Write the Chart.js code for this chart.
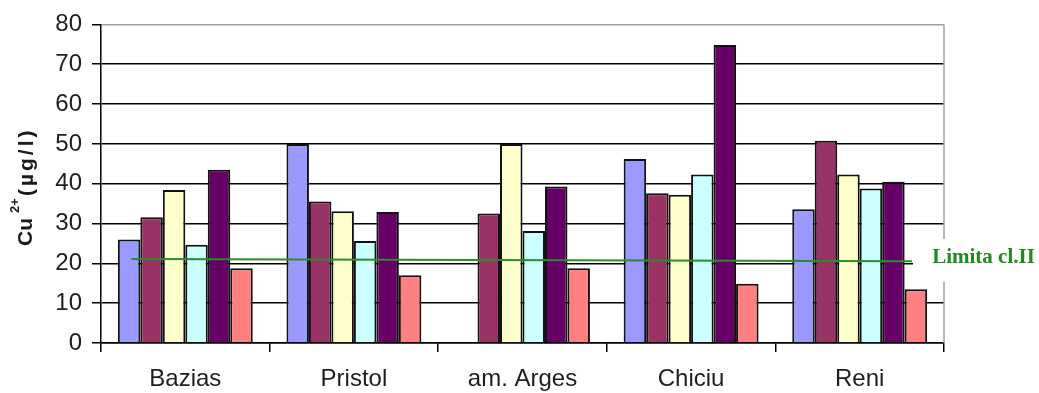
<!DOCTYPE html>
<html>
<head>
<meta charset="utf-8">
<script src="https://cdn.jsdelivr.net/npm/chart.js@4/dist/chart.umd.min.js"></script>
<style>
  html, body { margin: 0; padding: 0; background: #fff; }
  #wrap { width: 1039px; height: 393px; position: relative; }
</style>
</head>
<body>
<div id="wrap"><canvas id="c"></canvas></div>
<script>
// Sampling stations along the Danube
const sites = ['Bazias', 'Pristol', 'am. Arges', 'Chiciu', 'Reni'];

// Cu2+ concentration (µg/l), one array per sampling campaign
const series1 = [26.0, 50.0, null, 46.2, 33.6];
const series2 = [31.6, 35.5, 32.5, 37.6, 50.8];
const series3 = [38.4, 33.1, 50.0, 37.2, 42.3];
const series4 = [24.7, 25.6, 28.1, 42.3, 38.8];
const series5 = [43.5, 32.9, 39.3, 74.8, 40.5];
const series6 = [18.8, 17.0, 18.8, 14.9, 13.5];

// Value axis
const yMin = 0;
const yMax = 80;
const yStep = 10;

// Class II limit line, x given in station-index units
const limitLine = [{ x: -0.32, y: 21.1 }, { x: 4.31, y: 20.5 }];
const limitLabel = 'Limita cl.II';
const limitLabelAt = { x: 4.43, y: 20.6 };

// Axis title pieces: base, superscript, unit
const titleBase = 'Cu';
const titleSup = '2+';
const titleUnit = '(µg/l)';

const barColors = ['#9999FF', '#993366', '#FFFFCC', '#CCFFFF', '#660066', '#FF8080'];
const seriesList = [series1, series2, series3, series4, series5, series6];

const barSets = seriesList.map((d, i) => ({
  data: d,
  backgroundColor: barColors[i],
  borderColor: '#111',
  borderWidth: 2,
  borderSkipped: 'bottom',
  categoryPercentage: 0.8,
  barPercentage: 1.0
}));

const decor = {
  id: 'decor',
  afterDatasetsDraw(chart) {
    const { ctx, chartArea } = chart;
    const xs = chart.scales.x;
    const ys = chart.scales.y;
    ctx.save();
    // right frame edge
    ctx.strokeStyle = '#a0a0a0';
    ctx.lineWidth = 1.5;
    ctx.beginPath();
    ctx.moveTo(chartArea.right, chartArea.top);
    ctx.lineTo(chartArea.right, chartArea.bottom);
    ctx.stroke();

    // class II limit line
    ctx.strokeStyle = '#2a8c2a';
    ctx.lineWidth = 2;
    ctx.beginPath();
    limitLine.forEach((p, i) => {
      const px = xs.getPixelForValue(p.x);
      const py = ys.getPixelForValue(p.y);
      if (i === 0) ctx.moveTo(px, py); else ctx.lineTo(px, py);
    });
    ctx.stroke();

    // limit label with a white box behind it
    const ly = ys.getPixelForValue(limitLabelAt.y);
    const boxL = xs.getPixelForValue(limitLine[1].x) + 1;
    ctx.fillStyle = '#fff';
    ctx.fillRect(boxL, ly - 22, chart.width - boxL, 43);
    ctx.fillStyle = '#1f8a1f';
    ctx.font = 'bold 21px "Liberation Serif", "Times New Roman", serif';
    ctx.textAlign = 'left';
    ctx.textBaseline = 'middle';
    ctx.fillText(limitLabel, xs.getPixelForValue(limitLabelAt.x), ly - 3);
    ctx.restore();
  },
  afterDraw(chart) {
    const { ctx, chartArea } = chart;
    const cy = (chartArea.top + chartArea.bottom) / 2 + 3;
    ctx.save();
    ctx.translate(32, cy);
    ctx.rotate(-Math.PI / 2);
    ctx.fillStyle = '#1a1a1a';
    ctx.textBaseline = 'alphabetic';
    ctx.textAlign = 'left';
    const big = 'bold 21px "Liberation Sans", Arial, sans-serif';
    const small = 'bold 13px "Liberation Sans", Arial, sans-serif';
    const spacing = '3px';
    ctx.font = big;
    const w1 = ctx.measureText(titleBase).width;
    ctx.font = small;
    const w2 = ctx.measureText(titleSup).width;
    ctx.font = big;
    ctx.letterSpacing = spacing;
    const w3 = ctx.measureText(titleUnit).width;
    ctx.letterSpacing = '0px';
    const gap = 5;
    const total = w1 + gap + w2 + 2 + w3;
    let x = -total / 2;
    ctx.font = big;
    ctx.fillText(titleBase, x, 0);
    x += w1 + gap;
    ctx.font = small;
    ctx.fillText(titleSup, x, -13);
    x += w2 + 2;
    ctx.font = big;
    ctx.letterSpacing = spacing;
    ctx.fillText(titleUnit, x, 1);
    ctx.restore();
  }
};

new Chart(document.getElementById('c'), {
  type: 'bar',
  data: {
    labels: sites,
    datasets: barSets
  },
  plugins: [decor],
  options: {
    responsive: true,
    maintainAspectRatio: false,
    animation: false,
    layout: { padding: { left: 0, right: 95, top: 21, bottom: 0 } },
    plugins: {
      legend: { display: false },
      tooltip: { enabled: false },
      title: { display: false }
    },
    scales: {
      x: {
        type: 'category',
        offset: true,
        grid: {
          offset: true,
          drawOnChartArea: false,
          drawTicks: true,
          tickLength: 9,
          color: '#000',
          lineWidth: 1.5
        },
        border: { color: '#000', width: 1.5 },
        ticks: {
          color: '#1e1e1e',
          padding: 13,
          font: { family: '"Liberation Sans", Arial, sans-serif', size: 24 }
        },
        afterFit(scale) { scale.height = 50; }
      },
      y: {
        min: yMin,
        max: yMax,
        ticks: {
          stepSize: yStep,
          color: '#1e1e1e',
          padding: 10,
          font: { family: '"Liberation Sans", Arial, sans-serif', size: 24 }
        },
        grid: {
          color: (c) => (c.tick && c.tick.value === yMax ? '#a0a0a0' : '#000'),
          tickColor: '#000',
          lineWidth: 1.5,
          tickLength: 9
        },
        border: { color: '#000', width: 1.5 },
        afterFit(scale) { scale.width = 101; }
      }
    }
  }
});
</script>
</body>
</html>
